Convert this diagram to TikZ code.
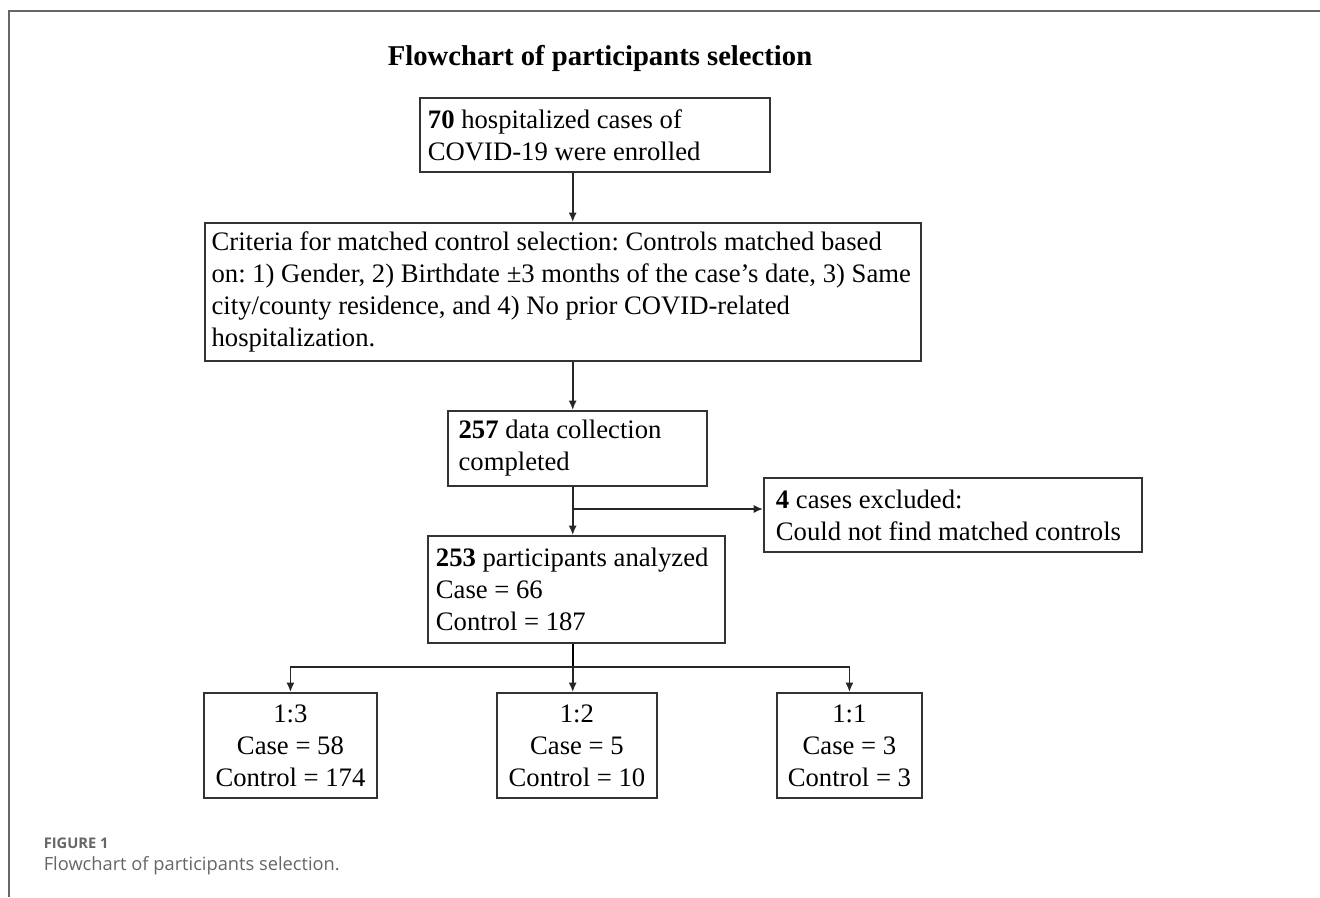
\documentclass[tikz,border=0pt]{standalone}
\usepackage{fontspec}
\setmainfont{Liberation Serif}
\newfontfamily\captionfont{Open Sans}
\usetikzlibrary{positioning,arrows.meta}
\frenchspacing
\hyphenpenalty=10000

\begin{document}
\begin{tikzpicture}[x=0.75pt,y=-0.75pt,font=\fontsize{20}{24}\selectfont, every path/.style={line width=1.2pt}]
    \tikzstyle{flow box}=[draw=black!80,line width=1.4pt,anchor=north west,align=flush left,inner xsep=8pt,inner ysep=0pt]
    \tikzstyle{ratio box}=[flow box,align=flush center]
    \tikzstyle{flow arrow}=[->,>={Latex[length=7pt,width=6pt]},black!85]
    \useasboundingbox (0,0) rectangle (1320,897);

    % frame of the figure panel
    \draw[line width=1.2pt,black!60] (1320,11) -- (9,11) -- (9,897);

    \node(title)[font=\fontsize{21.5}{24}\selectfont\bfseries] at (600,58) {Flowchart of participants selection};

    \node(enrolled)[flow box,inner xsep=6pt,text width=250.5pt,minimum height=55.5pt] at (419,97)
        {\textbf{70} hospitalized cases of\\COVID-19 were enrolled};
    \node(criteria)[flow box,inner xsep=5pt,text width=527pt,minimum height=103.5pt] at (204,222)
        {Criteria for matched control selection: Controls matched based\\on: 1) Gender, 2) Birthdate ±3 months of the case's date, 3) Same\\city/county residence, and 4) No prior COVID-related\\hospitalization.};
    \node(collected)[flow box,text width=178.25pt,minimum height=56.25pt] at (447,410)
        {\textbf{257} data collection\\completed};
    \node(excluded)[flow box,inner xsep=9pt,text width=265.5pt,minimum height=55.5pt] at (763,477)
        {\textbf{4} cases excluded:\\Could not find matched controls};
    \node(analyzed)[flow box,inner xsep=6pt,text width=210.75pt,minimum height=80.25pt] at (427,535)
        {\textbf{253} participants analyzed\\Case = 66\\Control = 187};

    \node(ratio3)[ratio box,inner xsep=4pt,text width=121.75pt,minimum height=78.75pt] at (203,692) {1:3\\Case = 58\\Control = 174};
    \node(ratio2)[ratio box,inner xsep=4pt,text width=112pt,minimum height=78.75pt] at (496,692) {1:2\\Case = 5\\Control = 10};
    \node(ratio1)[ratio box,inner xsep=4pt,text width=100.75pt,minimum height=78.75pt] at (776,692) {1:1\\Case = 3\\Control = 3};

    % vertical spine of the chart
    \coordinate(spine) at (572.7,0);
    \coordinate(split) at (572.7,509);
    \coordinate(bus) at (572.7,667);

    \draw[flow arrow](enrolled.south -| spine)--(criteria.north -| spine);
    \draw[flow arrow](criteria.south -| spine)--(collected.north -| spine);
    \draw[flow arrow](collected.south -| spine)--(analyzed.north -| spine);
    \draw[flow arrow](split)--(split -| excluded.west);
    \draw(analyzed.south -| spine)--(bus);
    \draw[flow arrow](bus)-|(ratio3.north);
    \draw[flow arrow](bus)-|(ratio1.north);
    \draw[flow arrow](bus)--(ratio2.north -| spine);

    \node(figlabel)[anchor=west,inner sep=0,text=black!60,font=\captionfont\fontsize{11}{12}\selectfont\bfseries] at (43,843) {FIGURE 1};
    \node(figcaption)[anchor=west,inner sep=0,text=black!60,font=\captionfont\fontsize{13.7}{15}\selectfont] at (43,866) {Flowchart of participants selection.};
\end{tikzpicture}
\end{document}
